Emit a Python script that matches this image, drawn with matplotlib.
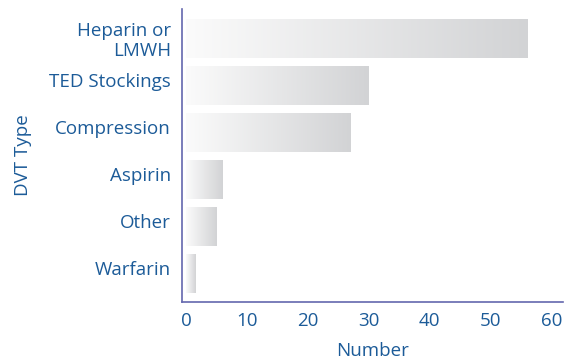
import numpy as np
import matplotlib
matplotlib.use("Agg")
import matplotlib.pyplot as plt
import matplotlib.transforms as mtransforms
from matplotlib.colors import LinearSegmentedColormap

# DVT prophylaxis types and counts
dvt_types = ["Heparin or\nLMWH", "TED Stockings", "Compression", "Aspirin", "Other", "Warfarin"]
counts = [56, 30, 27, 6, 5, 1.5]
x_ticks = [0, 10, 20, 30, 40, 50, 60]

text_blue = "#1c5b98"
axis_blue = "#6467ae"

plt.rcParams["font.family"] = ["Open Sans", "DejaVu Sans"]

fig = plt.figure(figsize=(5.76, 3.6), dpi=100)
ax = fig.add_axes([0.316, 0.161, 0.661, 0.814])

# light-to-grey horizontal fade used inside every bar
fade = LinearSegmentedColormap.from_list("fade", ["#fbfbfb", "#d2d3d5"])
grad = np.linspace(0, 1, 256).reshape(1, -1)

ypos = np.arange(len(dvt_types))
bars = ax.barh(ypos, counts, height=0.83, color="none", edgecolor="none")
for rect in bars:
    x0, y0 = rect.get_x(), rect.get_y()
    w, h = rect.get_width(), rect.get_height()
    im = ax.imshow(grad, cmap=fade, aspect="auto",
                   extent=(x0, x0 + w, y0 + h, y0), zorder=2)
    im.set_clip_path(rect)

ax.set_xlim(-0.66, 61.8)
ax.set_ylim(5.6, -0.63)

ax.set_yticks(ypos)
ax.set_yticklabels(dvt_types, ha="right", multialignment="right",
                   linespacing=1.15)
ax.set_xticks(x_ticks)

ax.tick_params(axis="both", length=0, labelsize=13.5, colors=text_blue)
ax.tick_params(axis="y", pad=8)
ax.tick_params(axis="x", pad=7)

# single-line category names sit a little above the bar middle
lift = mtransforms.ScaledTranslation(0, 4 / 72, fig.dpi_scale_trans)
drop = mtransforms.ScaledTranslation(0, -1.5 / 72, fig.dpi_scale_trans)
for lab in ax.get_yticklabels():
    if "\n" in lab.get_text():
        lab.set_va("center")
        lab.set_transform(lab.get_transform() + drop)
    else:
        lab.set_transform(lab.get_transform() + lift)

for side in ["top", "right"]:
    ax.spines[side].set_visible(False)
for side in ["left", "bottom"]:
    ax.spines[side].set_color(axis_blue)
    ax.spines[side].set_linewidth(1.2)

ax.set_xlabel("Number", fontsize=13.5, color=text_blue, labelpad=8.5)
ax.set_ylabel("DVT Type", fontsize=13.5, color=text_blue, labelpad=12)

fig.savefig("out.png", dpi=100)
